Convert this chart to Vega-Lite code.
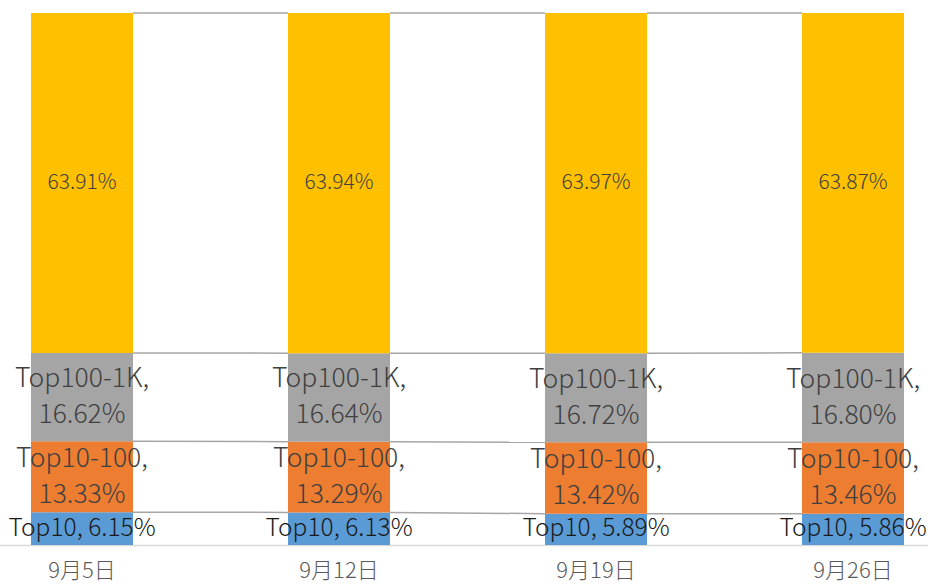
{
  "$schema": "https://vega.github.io/schema/vega-lite/v6.json",
  "width": 928,
  "height": 532,
  "autosize": "none",
  "padding": {"left": 0, "top": 13, "right": 0, "bottom": 40},
  "background": "white",
  "config": {"view": {"stroke": null}},
  "data": {
    "values": [
      {"date": "9月5日", "di": 0, "cat": "Top10", "order": 1, "value": 6.15, "label": "Top10, 6.15%"},
      {"date": "9月5日", "di": 0, "cat": "Top10-100", "order": 2, "value": 13.33, "label": "Top10-100,\n13.33%"},
      {"date": "9月5日", "di": 0, "cat": "Top100-1K", "order": 3, "value": 16.62, "label": "Top100-1K,\n16.62%"},
      {"date": "9月5日", "di": 0, "cat": "Other", "order": 4, "value": 63.91, "label": "63.91%"},
      {"date": "9月12日", "di": 1, "cat": "Top10", "order": 1, "value": 6.13, "label": "Top10, 6.13%"},
      {"date": "9月12日", "di": 1, "cat": "Top10-100", "order": 2, "value": 13.29, "label": "Top10-100,\n13.29%"},
      {"date": "9月12日", "di": 1, "cat": "Top100-1K", "order": 3, "value": 16.64, "label": "Top100-1K,\n16.64%"},
      {"date": "9月12日", "di": 1, "cat": "Other", "order": 4, "value": 63.94, "label": "63.94%"},
      {"date": "9月19日", "di": 2, "cat": "Top10", "order": 1, "value": 5.89, "label": "Top10, 5.89%"},
      {"date": "9月19日", "di": 2, "cat": "Top10-100", "order": 2, "value": 13.42, "label": "Top10-100,\n13.42%"},
      {"date": "9月19日", "di": 2, "cat": "Top100-1K", "order": 3, "value": 16.72, "label": "Top100-1K,\n16.72%"},
      {"date": "9月19日", "di": 2, "cat": "Other", "order": 4, "value": 63.97, "label": "63.97%"},
      {"date": "9月26日", "di": 3, "cat": "Top10", "order": 1, "value": 5.86, "label": "Top10, 5.86%"},
      {"date": "9月26日", "di": 3, "cat": "Top10-100", "order": 2, "value": 13.46, "label": "Top10-100,\n13.46%"},
      {"date": "9月26日", "di": 3, "cat": "Top100-1K", "order": 3, "value": 16.80, "label": "Top100-1K,\n16.80%"},
      {"date": "9月26日", "di": 3, "cat": "Other", "order": 4, "value": 63.87, "label": "63.87%"}
    ]
  },
  "transform": [
    {"stack": "value", "groupby": ["date"], "sort": [{"field": "order"}], "as": ["v0", "v1"]},
    {"calculate": "(datum.v0 + datum.v1) / 2", "as": "mid"}
  ],
  "encoding": {
    "x": {
      "field": "date",
      "type": "nominal",
      "sort": ["9月5日", "9月12日", "9月19日", "9月26日"],
      "scale": {"range": [-46.5, 981.5], "paddingInner": 0.603, "paddingOuter": 0.3015},
      "axis": {
        "title": null,
        "ticks": false,
        "labelAngle": 0,
        "labelFont": "Noto Sans CJK SC",
        "labelFontSize": 22,
        "labelFontWeight": 300,
        "labelColor": "#595959",
        "labelPadding": 15,
        "domainColor": "#d9d9d9",
        "domainWidth": 1.5
      }
    }
  },
  "layer": [
    {
      "mark": {"type": "bar"},
      "encoding": {
        "y": {"field": "v0", "type": "quantitative", "scale": {"domain": [0, 100], "nice": false}, "axis": null},
        "y2": {"field": "v1"},
        "color": {
          "field": "cat",
          "type": "nominal",
          "scale": {"domain": ["Top10", "Top10-100", "Top100-1K", "Other"], "range": ["#5B9BD5", "#ED7D31", "#A5A5A5", "#FFC000"]},
          "legend": null
        }
      }
    },
    {
      "transform": [
        {"window": [{"op": "lead", "field": "date", "as": "nextDate"}, {"op": "lead", "field": "v1", "as": "nextV1"}], "groupby": ["cat"], "sort": [{"field": "di"}]},
        {"filter": "datum.nextDate != null"}
      ],
      "mark": {"type": "rule", "color": "#a6a6a6", "strokeWidth": 1.5},
      "encoding": {
        "x": {"field": "date", "type": "nominal", "bandPosition": 1, "sort": ["9月5日", "9月12日", "9月19日", "9月26日"]},
        "x2": {"field": "nextDate", "bandPosition": 0},
        "y": {"field": "v1", "type": "quantitative"},
        "y2": {"field": "nextV1"}
      }
    },
    {
      "transform": [{"filter": "datum.cat == 'Other'"}],
      "mark": {"type": "text", "font": "Noto Sans CJK SC", "fontSize": 21, "fontWeight": 300, "baseline": "middle", "align": "center", "color": "#404040"},
      "encoding": {
        "y": {"field": "mid", "type": "quantitative"},
        "text": {"field": "label"}
      }
    },
    {
      "transform": [{"filter": "datum.cat == 'Top10-100' || datum.cat == 'Top100-1K'"}],
      "mark": {"type": "text", "font": "Noto Sans CJK SC", "fontSize": 26.5, "fontWeight": 300, "lineBreak": "\n", "lineHeight": 36, "baseline": "middle", "align": "center", "dy": -18, "color": "#404040"},
      "encoding": {
        "y": {"field": "mid", "type": "quantitative"},
        "text": {"field": "label"}
      }
    },
    {
      "transform": [{"filter": "datum.cat == 'Top10'"}],
      "mark": {"type": "text", "font": "Noto Sans CJK SC", "fontSize": 24.5, "fontWeight": 300, "baseline": "middle", "align": "center", "color": "#1a1a1a"},
      "encoding": {
        "y": {"field": "mid", "type": "quantitative"},
        "text": {"field": "label"}
      }
    }
  ]
}
